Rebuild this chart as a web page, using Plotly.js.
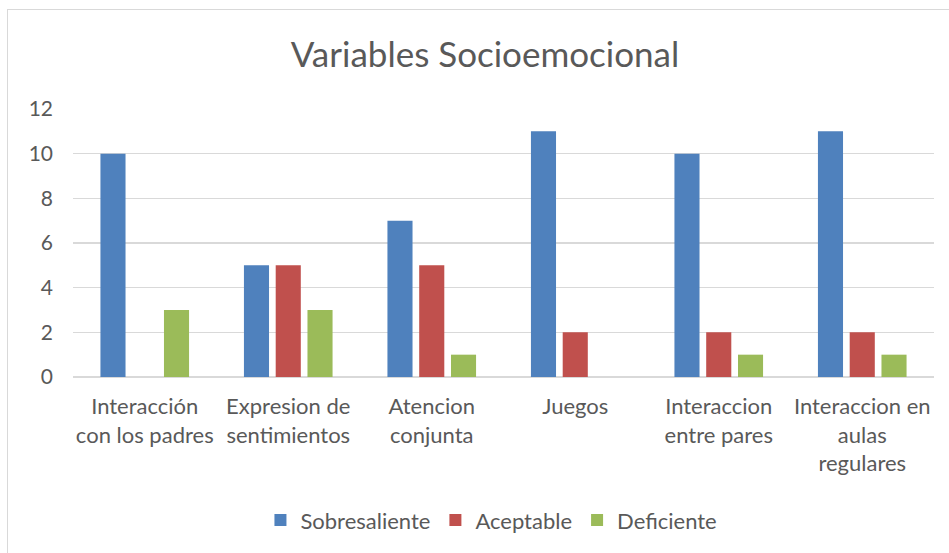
<!DOCTYPE html>
<html>
<head>
<meta charset="utf-8">
<script src="https://cdn.plot.ly/plotly-3.0.1.min.js"></script>
<style>
html,body{margin:0;padding:0;background:#fff;}
#frame{position:absolute;left:7px;top:9px;width:960px;height:560px;border:1px solid #d9d9d9;}
#chart{position:absolute;left:0;top:0;width:949px;height:553px;}
</style>
</head>
<body>
<div id="frame"></div>
<div id="chart"></div>
<script>
const categories = [
  "Interacción<br>con los padres",
  "Expresion de<br>sentimientos",
  "Atencion<br>conjunta",
  "Juegos",
  "Interaccion<br>entre pares",
  "Interaccion en<br>aulas<br>regulares"
];
const sobresaliente = [10, 5, 7, 11, 10, 11];
const aceptable = [0, 5, 5, 2, 2, 2];
const deficiente = [3, 3, 1, 0, 1, 1];
const yTicks = [0, 2, 4, 6, 8, 10, 12];

const FONT = "Lato, 'Open Sans', sans-serif";
const traces = [
  {type: 'bar', name: 'Sobresaliente', x: categories, y: sobresaliente, marker: {color: '#4F81BD'}},
  {type: 'bar', name: 'Aceptable', x: categories, y: aceptable, marker: {color: '#C0504D'}},
  {type: 'bar', name: 'Deficiente', x: categories, y: deficiente, marker: {color: '#9BBB59'}}
];
const layout = {
  width: 949, height: 553,
  margin: {l: 73, r: 15, t: 109, b: 176},
  paper_bgcolor: 'rgba(0,0,0,0)', plot_bgcolor: 'rgba(0,0,0,0)',
  font: {family: FONT, color: '#595959', size: 22},
  title: {text: 'Variables Socioemocional', font: {family: FONT, size: 35, color: '#595959'},
          x: 0.4785, xref: 'paper', xanchor: 'center', y: 55, yref: 'container', yanchor: 'middle'},
  barmode: 'group', bargap: 0.336, bargroupgap: 0.21,
  showlegend: true,
  legend: {orientation: 'h', x: 0.486, xanchor: 'center', y: -0.534, yanchor: 'middle',
           font: {family: FONT, size: 22, color: '#595959'}, itemwidth: 30, traceorder: 'normal'},
  xaxis: {type: 'category', showgrid: false, showline: false, ticks: '', zeroline: false,
          ticklabelstandoff: 14,
          tickfont: {family: FONT, size: 22, color: '#595959'}, fixedrange: true},
  yaxis: {range: [0, 12], tickvals: yTicks, showgrid: true, gridcolor: '#d9d9d9', gridwidth: 1.5,
          zeroline: true, zerolinecolor: '#d9d9d9', zerolinewidth: 1.5, showline: false, ticks: '',
          ticklabelstandoff: 19, tickfont: {family: FONT, size: 21, color: '#595959'}, fixedrange: true}
};
Plotly.newPlot('chart', traces, layout, {displayModeBar: false, staticPlot: true});
</script>
</body>
</html>
